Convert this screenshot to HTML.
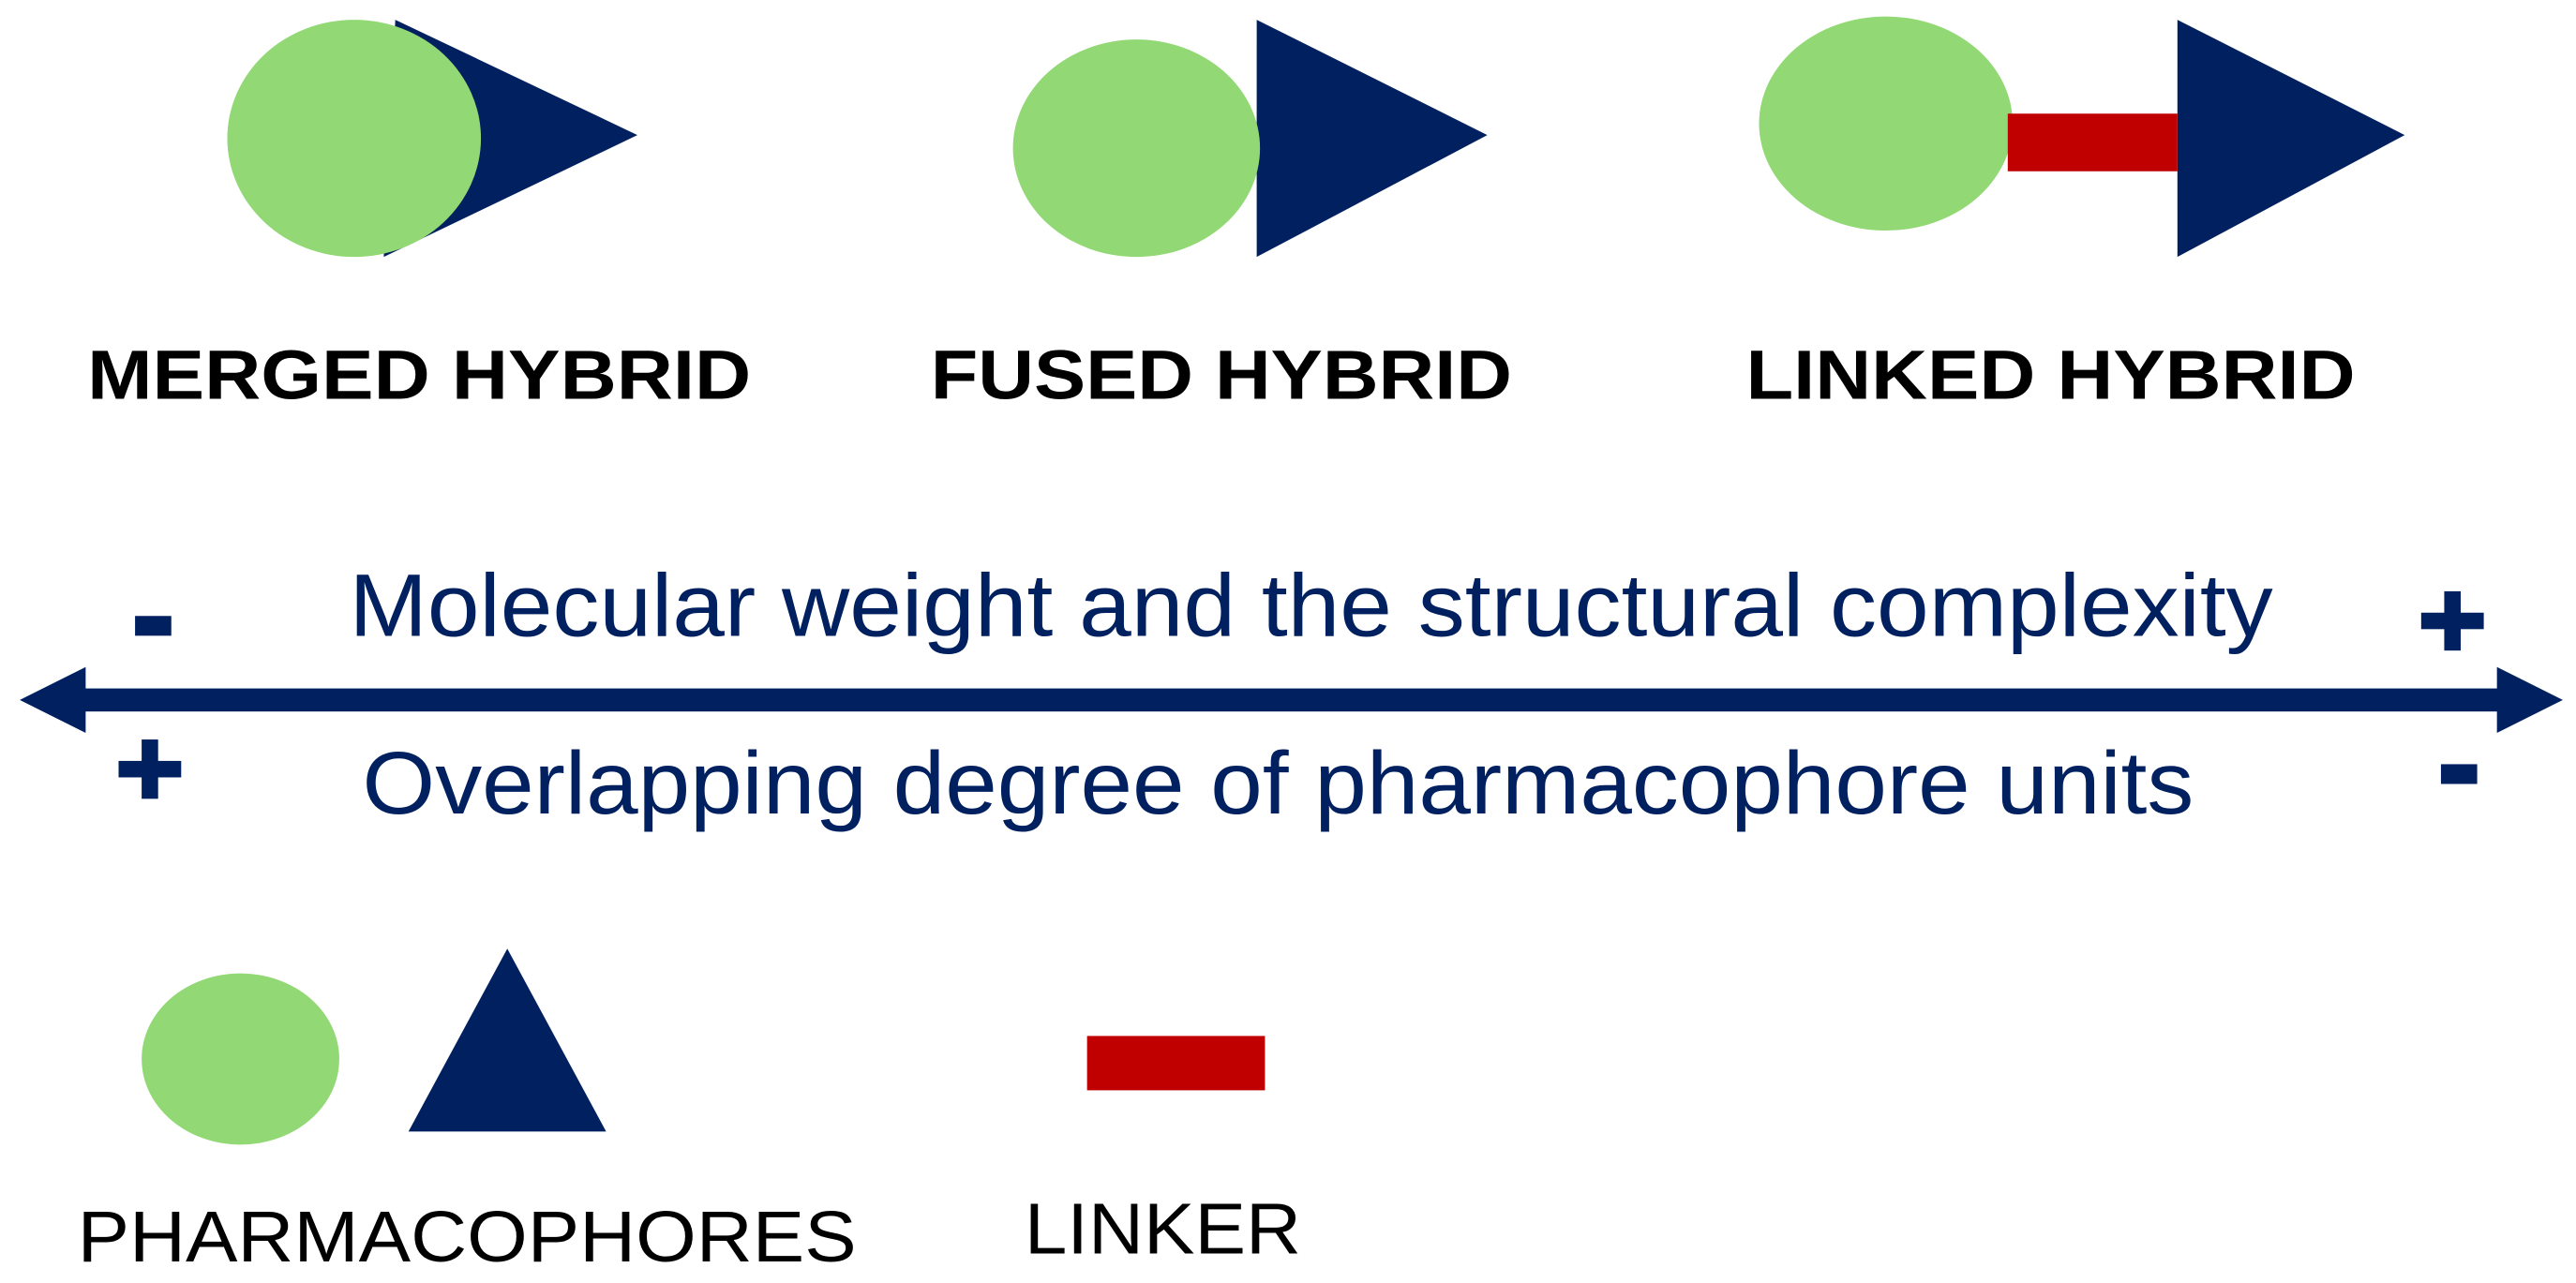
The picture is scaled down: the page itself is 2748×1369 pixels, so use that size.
<!DOCTYPE html>
<html><head><meta charset="utf-8"><style>html,body{margin:0;padding:0;background:#fff}svg{display:block}</style></head>
<body>
<svg width="2748" height="1369" viewBox="0 0 1564 779" preserveAspectRatio="none" xmlns="http://www.w3.org/2000/svg">
<rect width="1564" height="779" fill="#fff"/>
<g fill="#002060">
<polygon points="240,12 387,82 233,156"/>
<polygon points="763,12 903,82 763,156"/>
<polygon points="1322,12 1460,82 1322,156"/>
<polygon points="308,576 248,687 368,687"/>
</g>
<g fill="#92d975">
<ellipse cx="215" cy="84" rx="77" ry="72"/>
<ellipse cx="690" cy="90" rx="75" ry="66"/>
<ellipse cx="1145" cy="75" rx="77" ry="65"/>
<ellipse cx="146" cy="643" rx="60" ry="52"/>
</g>
<g fill="#c00000">
<rect x="1219" y="69" width="103" height="35"/>
<rect x="660" y="629" width="108" height="33"/>
</g>
<g font-family="Liberation Sans, Arial, sans-serif" font-weight="bold" font-size="42" fill="#000">
<text x="53" y="242" textLength="403" lengthAdjust="spacingAndGlyphs">MERGED HYBRID</text>
<text x="565" y="242" textLength="353" lengthAdjust="spacingAndGlyphs">FUSED HYBRID</text>
<text x="1060" y="242" textLength="370" lengthAdjust="spacingAndGlyphs">LINKED HYBRID</text>
</g>
<g fill="#002060">
<rect x="50" y="418" width="1468" height="14"/>
<polygon points="12,425 52,405 52,445"/>
<polygon points="1556,425 1516,405 1516,445"/>
<rect x="82" y="374" width="22" height="12"/>
<rect x="1470" y="372" width="38" height="10"/><rect x="1484" y="359" width="10" height="36"/>
<rect x="72" y="462" width="38" height="10"/><rect x="86" y="449" width="10" height="36"/>
<rect x="1482" y="464" width="22" height="12"/>
</g>
<g font-family="Liberation Sans, Arial, sans-serif" font-size="54" fill="#002060">
<text x="212" y="386" textLength="1168" lengthAdjust="spacingAndGlyphs">Molecular weight and the structural complexity</text>
<text x="220" y="494" textLength="1112" lengthAdjust="spacingAndGlyphs">Overlapping degree of pharmacophore units</text>
</g>
<g font-family="Liberation Sans, Arial, sans-serif" font-size="44" fill="#000">
<text x="47" y="766" textLength="473" lengthAdjust="spacingAndGlyphs">PHARMACOPHORES</text>
<text x="622" y="761" textLength="168" lengthAdjust="spacingAndGlyphs">LINKER</text>
</g>
</svg>
</body></html>
